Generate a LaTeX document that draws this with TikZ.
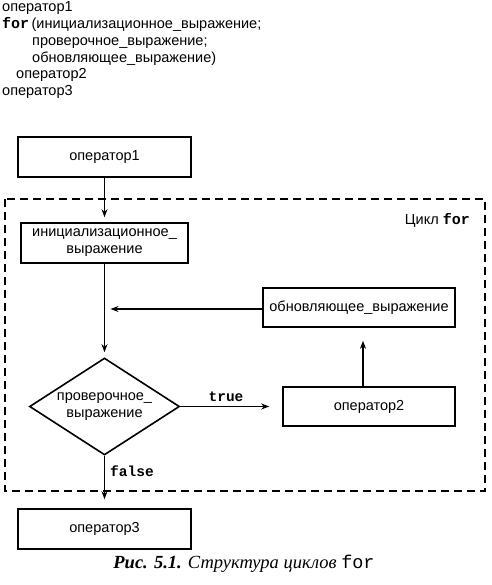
\documentclass[tikz,border=0pt]{standalone}
\usepackage{fontspec}
\setmainfont{Liberation Sans}
\setmonofont{Liberation Mono}
\newfontfamily\capfont{Liberation Serif}
\usetikzlibrary{shapes.geometric,arrows.meta}

\begin{document}
\begin{tikzpicture}[x=1pt, y=-1pt,
  box/.style={draw, line width=1.6pt, inner sep=0pt, align=center, font=\fontsize{14.5}{17}\selectfont},
  cond/.style={draw, diamond, aspect=1.55, line width=1.6pt, inner sep=0pt, align=center, font=\fontsize{14.5}{17}\selectfont},
  arr/.style={line width=1.3pt, -{Stealth[length=8pt, width=6pt]}},
  code/.style={anchor=base west, inner sep=0pt, font=\fontsize{14.5}{17}\selectfont},
  lbl/.style={inner sep=0pt, font=\fontsize{14.5}{16}\selectfont\ttfamily\bfseries}]
% Set the page size
\useasboundingbox (0,0) rectangle (491,585);

% The program text
\node[code] (l1) at (2,12) {оператор1};
\node[code] (l2) at (2,29) {{\fontsize{15}{16}\selectfont\ttfamily\bfseries for}\,(инициализационное\_выражение;};
\node[code] (l3) at (32,46) {проверочное\_выражение;};
\node[code] (l4) at (32,63) {обновляющее\_выражение)};
\node[code] (l5) at (16,79) {оператор2};
\node[code] (l6) at (2,96) {оператор3};

% The loop frame
\draw[line width=1.6pt, dash pattern=on 8pt off 5pt] (5,199) rectangle (485,491);
\node[code, anchor=base east] (loop) at (470,224) {Цикл {\fontsize{15}{16}\selectfont\ttfamily\bfseries for}};

% The boxes
\node[box, minimum width=173pt, minimum height=40pt] (op1) at (104.5,157) {оператор1};
\node[box, minimum width=167pt, minimum height=40pt] (init) at (104.5,243) {инициализационное\_\\выражение};
\node[box, minimum width=192pt, minimum height=39pt] (upd) at (359,307.5) {обновляющее\_выражение};
\node[cond, minimum width=150pt, minimum height=97pt] (chk) at (104.5,406.5) {проверочное\_\\выражение};
\node[box, minimum width=172pt, minimum height=39pt] (op2) at (369,406.5) {оператор2};
\node[box, minimum width=173pt, minimum height=40pt] (op3) at (104.5,529) {оператор3};
\coordinate (join) at (104.5,309);

% The arrows
\draw[arr, shorten >=5pt] (op1) -- (init);
\draw[arr, shorten >=5pt] (init) -- (chk);
\draw[arr, shorten >=6pt] (upd.west |- join) -- (join);
\draw[arr, shorten >=13pt] (chk) -- (op2);
\draw[arr, shorten >=13pt] ([xshift=-6pt]op2.north) -- ([xshift=-6pt]op2.north |- upd.south);
\draw[arr, shorten >=9pt] (chk) -- (op3);
\node[lbl, anchor=base] (tlab) at (226,401) {true};
\node[lbl, anchor=base west] (flab) at (110,476) {false};

% Caption
\node[anchor=base, inner sep=0pt, font=\fontsize{18.5}{20}\selectfont\capfont] (fig) at (244,568)
  {\textbf{\textit{Рис. 5.1.}} \textit{Структура циклов} {\ttfamily for}};
\end{tikzpicture}
\end{document}
